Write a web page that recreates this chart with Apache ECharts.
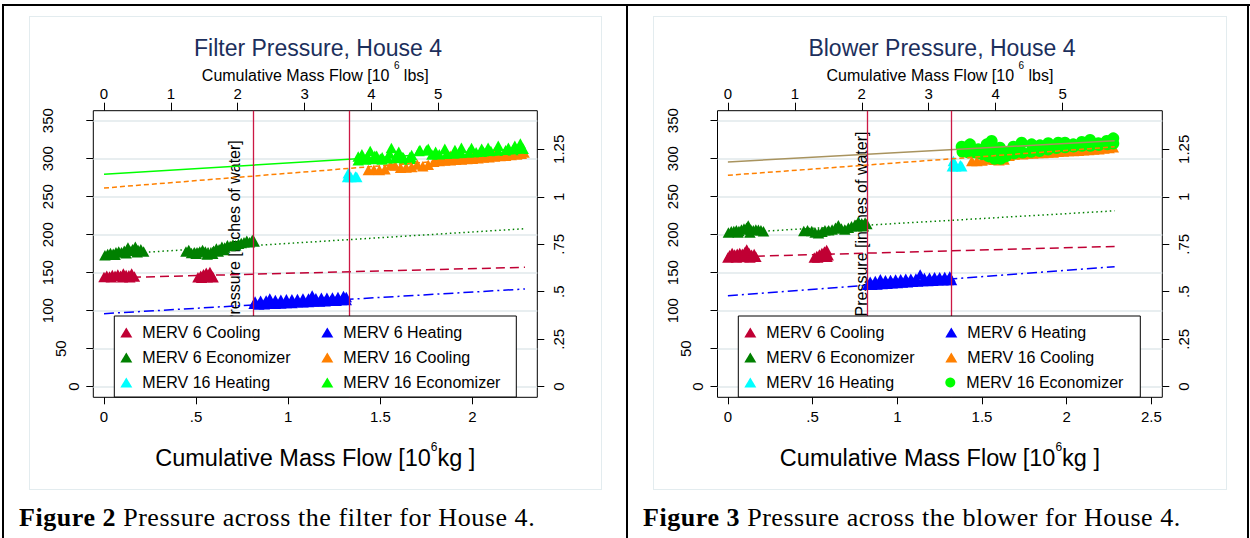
<!DOCTYPE html>
<html><head><meta charset="utf-8">
<script src="https://cdn.jsdelivr.net/npm/echarts@6/dist/echarts.min.js"></script>
<style>
html,body{margin:0;padding:0;background:#fff;width:1250px;height:538px;overflow:hidden;position:relative}
.ln{position:absolute;background:#000}
.bgbox{position:absolute;border:1.5px solid #e3ecef;box-sizing:border-box;background:#fff}
.chart{position:absolute;top:0;width:625px;height:538px}
.cap{position:absolute;top:503px;line-height:29px;font-family:"Liberation Serif","Times New Roman",serif;font-size:26px;letter-spacing:0.55px;color:#000;white-space:nowrap}
</style></head><body>
<div class="ln" style="left:2px;top:4px;width:1248px;height:2px"></div>
<div class="ln" style="left:2px;top:4px;width:2px;height:534px"></div>
<div class="ln" style="left:626px;top:4px;width:2px;height:534px"></div>
<div class="ln" style="left:1247px;top:4px;width:2px;height:534px"></div>
<div class="bgbox" style="left:29px;top:16px;width:573px;height:474px"></div>
<div class="bgbox" style="left:653px;top:16px;width:574px;height:474px"></div>
<div id="c1" class="chart" style="left:0"></div>
<div id="c2" class="chart" style="left:625px"></div>
<div class="cap" style="left:19px"><b>Figure 2</b> Pressure across the filter for House 4.</div>
<div class="cap" style="left:643px"><b>Figure 3</b> Pressure across the blower for House 4.</div>
<script>
// ---------- tick values ----------
const kgTicksFilter = [0, 0.5, 1, 1.5, 2];
const kgTicksBlower = [0, 0.5, 1, 1.5, 2, 2.5];
const lbsTicks = [0, 1, 2, 3, 4, 5];
const paTicks = [0, 50, 100, 150, 200, 250, 300, 350];
const inchTicks = [0, 0.25, 0.5, 0.75, 1, 1.25];
const legendNames = ['MERV 6 Cooling', 'MERV 6 Heating', 'MERV 6 Economizer', 'MERV 16 Cooling', 'MERV 16 Heating', 'MERV 16 Economizer'];

// ---------- Filter pressure (Figure 2) ----------
const filterVLines = [0.815, 1.327];
const filterM6Cool = [[0.0,144.5],[0.015,146],[0.03,145],[0.045,147],[0.06,146],[0.075,147.5],[0.09,146],[0.105,149],[0.12,147],[0.135,146.5],[0.15,149],[0.165,145],[0.04,144],[0.1,144],[0.14,144],
  [0.51,144],[0.525,146],[0.54,148],[0.555,150],[0.565,147],[0.575,151],[0.585,146],[0.592,144],[0.53,143.5],[0.56,144],[0.545,145]];
const filterM6Heat = [[0.815,109],[0.84,108],[0.87,108.5],[0.9,109],[0.93,109],[0.96,109.5],[0.99,110],[1.02,110],[1.05,111],[1.08,111],[1.11,111.5],[1.14,112],[1.17,112],[1.2,112.5],[1.23,113],[1.26,113],[1.29,114],[1.315,114],
  [0.82,112],[0.85,113],[0.88,113.5],[0.9,116],[0.93,114],[0.96,114.5],[0.99,115],[1.02,115],[1.05,115.5],[1.08,116],[1.11,116],[1.13,120],[1.15,116.5],[1.18,117],[1.21,117],[1.24,117.5],[1.27,118],[1.3,119.5],[1.315,118]];
const filterM6Econ = [[0.005,173],[0.02,174.5],[0.035,176],[0.05,175],[0.065,177],[0.08,178],[0.095,177],[0.11,179],[0.125,180],[0.13,183],[0.14,179],[0.155,181],[0.17,184],[0.185,180],[0.2,181],[0.215,178],[0.06,173.5],[0.12,175.5],[0.18,177],
  [0.445,178],[0.46,180],[0.475,176],[0.49,177],[0.505,177],[0.52,178],[0.535,180],[0.55,178],[0.565,176],[0.58,177],[0.595,179],[0.61,182],[0.625,181],[0.64,184],[0.655,183],[0.67,186],[0.685,185],[0.7,187],[0.715,186],[0.73,188],[0.745,189],[0.76,190],[0.775,192],[0.79,190],[0.805,193],[0.815,191],
  [0.5,175],[0.56,174],[0.59,175],[0.62,178],[0.65,180]];
const filterM16Cool = [[1.435,285],[1.465,285.5],[1.495,285],[1.525,286],[1.555,291.5],[1.58,291],[1.61,288],[1.64,288.5],[1.67,289],[1.70,292.5],[1.73,290],[1.76,292],[1.79,296],[1.82,297],[1.85,297.5],[1.88,298],[1.91,298.5],[1.94,299],[1.97,299.5],[2.0,300],[2.03,300.5],[2.06,301.5],[2.09,302],[2.12,303],[2.15,303.5],[2.18,304],[2.21,305],[2.24,305.5],[2.265,306.5],[2.28,308],
  [1.82,303],[1.88,304],[1.94,305],[2.0,306],[2.06,307],[2.12,308],[2.18,310],[2.23,311],[2.27,313]];
const filterM16Heat = [[1.322,276],[1.326,281],[1.34,276],[1.365,276.5],[1.372,276]];
const filterM16Econ = [[1.38,303],[1.40,306],[1.445,310],[1.48,304],[1.51,302],[1.56,314],[1.60,309],[1.625,301.5],[1.67,305],[1.715,311.5],[1.76,313],[1.80,309],[1.85,313],[1.905,311.5],[1.94,314.5],[1.995,314],[2.05,313],[2.085,314.5],[2.14,317],[2.195,314.5],[2.23,317],[2.26,320],[2.275,313],
  [1.39,300],[1.43,303],[1.47,304],[1.51,299],[1.55,307],[1.59,304],[1.63,299],[1.67,300],[1.71,310],[1.75,311],
  [1.38,298],[1.42,299],[1.46,299.5],[1.50,300],[1.54,300.5],[1.58,301],[1.62,302],[1.66,302],[1.78,305.5],[1.82,306],[1.86,306.5],[1.90,307],[1.94,307.5],[1.98,308],[2.02,308.5],[2.06,309],[2.10,310],[2.14,310.5],[2.18,311],[2.22,311.5],[2.26,313]];
const filterFitM6Cool = [[0,143.1],[2.285,157.1]];
const filterFitM6Heat = [[0,96.1],[2.285,128.6]];
const filterFitM6Econ = [[0,173.5],[2.285,207.9]];
const filterFitM16Cool = [[0,261.4],[2.285,305.8]];
const filterFitM16Econ = [[0,279.5],[2.285,313.4]];

// ---------- Blower pressure (Figure 3) ----------
const blowerVLines = [0.818, 1.325];
const blowerM6Cool = [[0.0,170],[0.01,173],[0.025,176],[0.04,174],[0.055,175],[0.07,176],[0.085,175],[0.1,177],[0.111,180.5],[0.125,176],[0.14,173.5],[0.155,174.5],[0.165,171],[0.05,170],[0.09,170.5],[0.13,170],
  [0.51,170],[0.525,172],[0.54,174],[0.555,176],[0.57,178],[0.583,180],[0.592,173],[0.56,171],[0.53,170],[0.585,171]];
const blowerM6Heat = [[0.825,134],[0.85,134],[0.88,134.5],[0.91,135],[0.94,135.5],[0.97,136],[1.0,136.5],[1.03,137],[1.06,137.5],[1.09,138],[1.12,138.5],[1.15,139],[1.18,139],[1.21,139.5],[1.24,140],[1.27,140],[1.3,140.5],[1.32,140.5],
  [0.84,138],[0.87,139],[0.9,141.5],[0.93,140],[0.96,140.5],[0.99,141],[1.02,141.5],[1.05,142],[1.08,142],[1.11,142.5],[1.135,147.5],[1.16,143],[1.19,143.5],[1.22,144],[1.25,144],[1.28,144.5],[1.31,145]];
const blowerM6Econ = [[0.003,203],[0.02,204.5],[0.035,205],[0.05,206],[0.065,205],[0.08,207],[0.095,208],[0.11,209],[0.12,212],[0.135,207],[0.15,206],[0.165,207],[0.18,206.5],[0.195,206],[0.21,204.5],[0.06,203],[0.13,203],
  [0.448,205],[0.47,206],[0.495,205],[0.515,203],[0.535,202],[0.555,204],[0.573,206],[0.595,206],[0.615,207],[0.635,209],[0.652,212.5],[0.67,208],[0.69,207],[0.711,209],[0.73,211],[0.75,213],[0.77,217],[0.79,215],[0.81,216],[0.82,214],[0.76,211],[0.8,211]];
const blowerM16Cool = [[1.44,297],[1.47,297],[1.5,297.5],[1.53,299],[1.55,301],[1.575,298.5],[1.6,298],[1.63,299],[1.66,304],[1.69,305.5],[1.714,307],[1.74,306],[1.77,307],[1.8,307],[1.83,307.5],[1.86,307.5],[1.89,308],[1.92,308],[1.95,309],[1.98,309.5],[2.01,310],[2.04,310],[2.07,310.5],[2.1,311],[2.13,311.5],[2.16,312],[2.19,312.5],[2.22,313.5],[2.25,314],[2.275,315]];
const blowerM16Heat = [[1.325,290],[1.331,297],[1.345,290],[1.372,291.5],[1.38,290]];
const blowerM16Econ = [[1.38,315.8],[1.429,318.9],[1.478,312.3],[1.528,318.9],[1.557,323.3],[1.606,314.5],[1.646,307.9],[1.685,315.8],[1.734,321.1],[1.793,318.9],[1.842,317.6],[1.891,320.3],[1.95,321.1],[1.99,321.1],[2.039,318.9],[2.089,322],[2.138,324.6],[2.187,320.3],[2.236,323.3],[2.275,326.8],
  [1.55,313],[1.6,308],
  [1.385,309],[1.42,308],[1.46,308],[1.5,306],[1.54,303],[1.575,300],[1.61,300],[1.64,303],[1.69,307],[1.74,308],[1.79,309],[1.84,310],[1.89,312],[1.94,314],[1.99,315],[2.04,316],[2.09,317],[2.14,317],[2.19,318],[2.24,319],[2.275,320]];
const blowerFitM6Cool = [[0,170.8],[2.283,184.5]];
const blowerFitM6Heat = [[0,119.7],[2.283,157.9]];
const blowerFitM6Econ = [[0,201.9],[2.283,231.4]];
const blowerFitM16Cool = [[0,278.2],[2.283,315.6]];
const blowerFitM16Econ = [[0,295.7],[2.283,323.6]];

// ---------- styling ----------
const FONT = '"Liberation Sans", Arial, Helvetica, sans-serif';
const C = {cran:'#c00034', blue:'#0000ff', dkgreen:'#008000', orange:'#ff8000', cyan:'#00ffff', lime:'#00ff00', tan:'#a8935e', vline:'#cc1844'};
function fmt(v){ const s = String(v); return s.indexOf('0.') === 0 ? s.slice(1) : s; }

function makeOption(p) {
  const TRI = [11.5, 10.5];
  const scatter = (name, data, color, symbol, size) => ({
    name, type:'scatter', data, symbol, symbolSize:size, itemStyle:{color, opacity:1},
    xAxisIndex:0, yAxisIndex:0, z:2, silent:true, emphasis:{disabled:true}, animation:false
  });
  const fit = (data, color, type) => ({
    name:'fit', type:'line', data, showSymbol:false, symbol:'none', xAxisIndex:0, yAxisIndex:0, z:3, silent:true,
    lineStyle:{color, width:1.5, type}, emphasis:{disabled:true}, animation:false
  });
  const lab = {fontFamily:FONT, fontSize:15, color:'#000'};
  const noLine = {show:false, onZero:false};
  return {
    animation:false,
    backgroundColor:'transparent',
    textStyle:{fontFamily:FONT},
    title:{text:p.title, left:p.titleX, top:36, padding:0, textAlign:'center',
      textStyle:{fontFamily:FONT, fontSize:23, fontWeight:'normal', color:'#1c2f5c'}},
    grid:{left:p.gridLeft, top:110.7, width:p.gridWidth, height:286.6, show:true, borderColor:'#000', borderWidth:1,
      backgroundColor:'transparent', containLabel:false, outerBoundsMode:'none'},
    legend:{data:legendNames, left:p.legendLeft, top:316, width:394, orient:'horizontal', itemGap:9, itemWidth:12, itemHeight:10,
      padding:[8.5,3,6.5,6], backgroundColor:'#fff', borderColor:'#000', borderWidth:1, selectedMode:false, z:6,
      textStyle:{fontFamily:FONT, fontSize:16, color:'#000', width:170, lineHeight:14, padding:[0,0,0,5], overflow:'none'}},
    xAxis:[
      {type:'value', position:'bottom', min:p.kgMin, max:p.kgMax, axisLine:noLine, splitLine:{show:false},
       axisTick:{show:true, customValues:p.kgTicks, length:7, lineStyle:{color:'#000', width:1}},
       axisLabel:Object.assign({customValues:p.kgTicks, formatter:fmt, margin:12}, lab),
       name:'{a|Cumulative Mass Flow [10}{s|6}{a|kg ]}', nameLocation:'middle', nameGap:43.5, nameMoveOverlap:false,
       nameTextStyle:{rich:{a:{fontFamily:FONT, fontSize:23.5, color:'#000'}, s:{fontFamily:FONT, fontSize:12, color:'#000', padding:[0,0,23,0]}}}},
      {type:'value', position:'top', min:p.lbsMin, max:p.lbsMax, axisLine:noLine, splitLine:{show:false},
       axisTick:{show:true, customValues:lbsTicks, length:8, lineStyle:{color:'#000', width:1}},
       axisLabel:Object.assign({customValues:lbsTicks, formatter:fmt, margin:10}, lab),
       name:'{a|Cumulative Mass Flow [10 }{s|6}{a| lbs]}', nameLocation:'middle', nameGap:20.7, nameMoveOverlap:false,
       nameTextStyle:{rich:{a:{fontFamily:FONT, fontSize:16, color:'#000'}, s:{fontFamily:FONT, fontSize:10, color:'#000', padding:[0,0,20,0]}}}}
    ],
    yAxis:[
      {type:'value', position:'left', min:-13.95, max:363.16, axisLine:noLine,
       splitLine:{show:true, lineStyle:{color:'#e0e8eb', width:1.5}},
       axisTick:{show:true, customValues:paTicks, length:7, lineStyle:{color:'#000', width:1}},
       axisLabel:{customValues:paTicks, rotate:90, margin:12.5,
         formatter:v => { const s = fmt(v); return '{p' + s.length + '|' + s + '}'; },
         rich:{p1:Object.assign({}, lab), p2:Object.assign({padding:[0,0,12.5,0]}, lab), p3:Object.assign({padding:[0,0,25.5,0]}, lab)}}},
      {type:'value', position:'right', min:-0.0558, max:1.4532, axisLine:noLine, splitLine:{show:false},
       axisTick:{show:true, customValues:inchTicks, length:7, lineStyle:{color:'#000', width:1}},
       axisLabel:Object.assign({customValues:inchTicks, rotate:90, margin:13.5, formatter:fmt}, lab)}
    ],
    graphic:[{type:'text', x:p.ytX, y:p.ytY, rotation:Math.PI/2, z:1, silent:true,
      style:{text:'Pressure [inches of water]', font:'16px ' + FONT, fill:'#000', align:'center', verticalAlign:'middle', textAlign:'center', textVerticalAlign:'middle'}}],
    series:[
      scatter('MERV 6 Cooling', p.d.m6Cool, C.cran, 'triangle', TRI),
      scatter('MERV 6 Heating', p.d.m6Heat, C.blue, 'triangle', TRI),
      scatter('MERV 6 Economizer', p.d.m6Econ, C.dkgreen, 'triangle', TRI),
      scatter('MERV 16 Cooling', p.d.m16Cool, C.orange, 'triangle', TRI),
      scatter('MERV 16 Heating', p.d.m16Heat, C.cyan, 'triangle', TRI),
      scatter('MERV 16 Economizer', p.d.m16Econ, C.lime, p.econSymbol, p.econSymbol === 'circle' ? 12 : TRI),
      fit(p.f.m6Cool, C.cran, [9,5]),
      fit(p.f.m6Heat, C.blue, [10,4,2,4]),
      fit(p.f.m6Econ, C.dkgreen, [1.5,3]),
      fit(p.f.m16Cool, C.orange, [5,3]),
      fit(p.f.m16Econ, p.econFitColor, 'solid'),
      {name:'xline', type:'line', data:[], xAxisIndex:0, yAxisIndex:0, z:4, silent:true, animation:false,
       markLine:{symbol:['none','none'], silent:true, animation:false, label:{show:false},
         lineStyle:{color:C.vline, width:1.3, type:'solid'}, emphasis:{disabled:true},
         data:p.vlines.map(v => ({xAxis:v}))}}
    ]
  };
}

const c1 = echarts.init(document.getElementById('c1'), null, {renderer:'svg', width:625, height:538});
c1.setOption(makeOption({
  title:'Filter Pressure, House 4', titleX:318, gridLeft:93.3, gridWidth:444,
  kgMin:-0.0581, kgMax:2.352, kgTicks:kgTicksFilter, lbsMin:-0.160, lbsMax:6.481,
  legendLeft:114.3, ytX:234, ytY:232.7, vlines:filterVLines, econSymbol:'triangle', econFitColor:C.lime,
  d:{m6Cool:filterM6Cool, m6Heat:filterM6Heat, m6Econ:filterM6Econ, m16Cool:filterM16Cool, m16Heat:filterM16Heat, m16Econ:filterM16Econ},
  f:{m6Cool:filterFitM6Cool, m6Heat:filterFitM6Heat, m6Econ:filterFitM6Econ, m16Cool:filterFitM16Cool, m16Econ:filterFitM16Econ}
}));
const c2 = echarts.init(document.getElementById('c2'), null, {renderer:'svg', width:625, height:538});
c2.setOption(makeOption({
  title:'Blower Pressure, House 4', titleX:317, gridLeft:92.5, gridWidth:444.8,
  kgMin:-0.0614, kgMax:2.5644, kgTicks:kgTicksBlower, lbsMin:-0.155, lbsMax:6.489,
  legendLeft:113.3, ytX:236, ytY:224, vlines:blowerVLines, econSymbol:'circle', econFitColor:C.tan,
  d:{m6Cool:blowerM6Cool, m6Heat:blowerM6Heat, m6Econ:blowerM6Econ, m16Cool:blowerM16Cool, m16Heat:blowerM16Heat, m16Econ:blowerM16Econ},
  f:{m6Cool:blowerFitM6Cool, m6Heat:blowerFitM6Heat, m6Econ:blowerFitM6Econ, m16Cool:blowerFitM16Cool, m16Econ:blowerFitM16Econ}
}));
</script>
</body></html>
